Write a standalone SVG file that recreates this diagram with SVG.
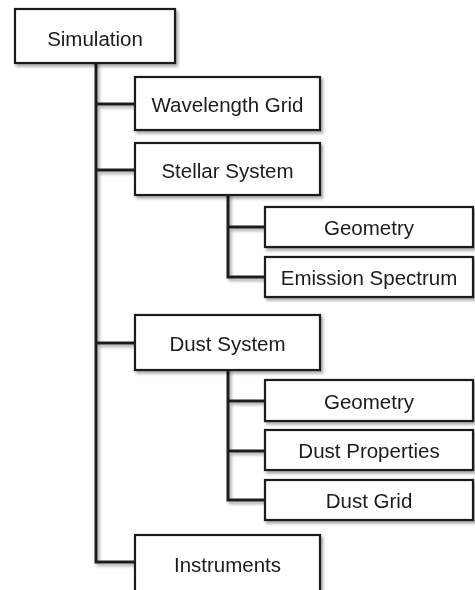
<svg xmlns="http://www.w3.org/2000/svg" width="475" height="590" viewBox="0 0 475 590">
<defs>
<filter id="sh" x="-10%" y="-10%" width="130%" height="140%">
<feDropShadow dx="2" dy="2.5" stdDeviation="1.8" flood-color="#000" flood-opacity="0.35"/>
</filter>
<style>
.box{fill:#fff;stroke:#1e1e1e;stroke-width:2.2}
.ln{fill:none;stroke:#1e1e1e;stroke-width:3;stroke-linecap:square}
text{font-family:"Liberation Sans",Arial,sans-serif;font-size:20.5px;fill:#1a1a1a;text-anchor:middle}
</style>
</defs>
<rect width="475" height="590" fill="#fff"/>
<g id="connectors" filter="url(#sh)">
<path class="ln" d="M96,63 V562 H135 M96,104 H135 M96,170 H135 M96,343 H135"/>
<path class="ln" d="M228,195 V277 H265 M228,227 H265"/>
<path class="ln" d="M228,370 V500 H265 M228,401 H265 M228,451 H265"/>
</g>
<g id="simulation" filter="url(#sh)"><rect class="box" x="15" y="9" width="160" height="54"/><text x="95" y="45.5">Simulation</text></g>
<g id="wavelength-grid" filter="url(#sh)"><rect class="box" x="135" y="77" width="185" height="53"/><text x="227.5" y="111.5">Wavelength Grid</text></g>
<g id="stellar-system" filter="url(#sh)"><rect class="box" x="135" y="143" width="185" height="52"/><text x="227.5" y="177.5">Stellar System</text></g>
<g id="stellar-geometry" filter="url(#sh)"><rect class="box" x="265" y="207" width="208" height="40"/><text x="369" y="235">Geometry</text></g>
<g id="emission-spectrum" filter="url(#sh)"><rect class="box" x="265" y="257" width="208" height="40"/><text x="369" y="285">Emission Spectrum</text></g>
<g id="dust-system" filter="url(#sh)"><rect class="box" x="135" y="315" width="185" height="55"/><text x="227.5" y="351">Dust System</text></g>
<g id="dust-geometry" filter="url(#sh)"><rect class="box" x="265" y="380" width="208" height="41"/><text x="369" y="408.5">Geometry</text></g>
<g id="dust-properties" filter="url(#sh)"><rect class="box" x="265" y="430" width="208" height="40"/><text x="369" y="458">Dust Properties</text></g>
<g id="dust-grid" filter="url(#sh)"><rect class="box" x="265" y="480" width="208" height="40"/><text x="369" y="508">Dust Grid</text></g>
<g id="instruments" filter="url(#sh)"><rect class="box" x="135" y="535" width="185" height="62"/><text x="227.5" y="572">Instruments</text></g>
</svg>
